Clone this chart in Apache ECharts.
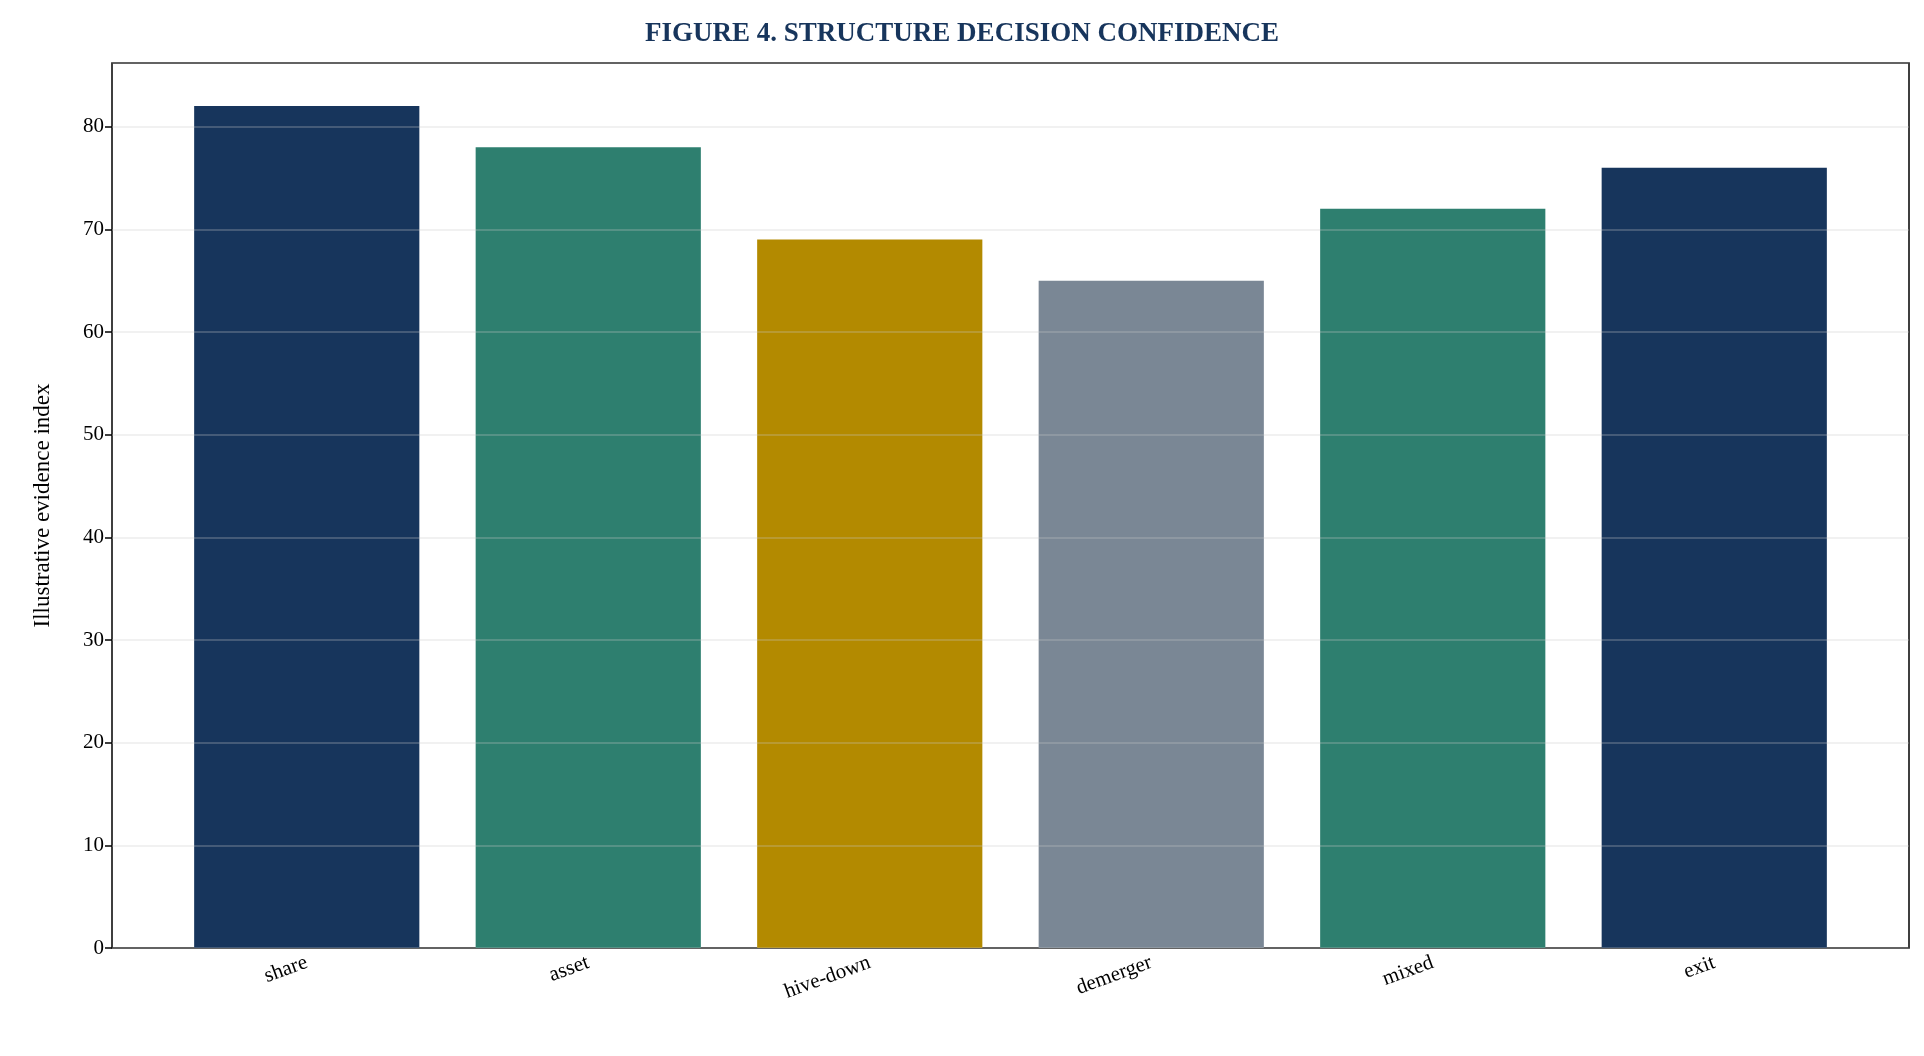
<!DOCTYPE html><html><head><meta charset="utf-8"><script src="https://cdn.jsdelivr.net/npm/echarts@6/dist/echarts.min.js"></script></head><body style="margin:0"><div id="c" style="width:1924px;height:1056px"></div><script>
const categories=['share','asset','hive-down','demerger','mixed','exit'];
const values=[82,78,69,65,72,76];
const colors=['#17355c','#2e7f6f','#b38a00','#7a8795','#2e7f6f','#17355c'];
const F='Liberation Serif';
const ch=echarts.init(document.getElementById('c'));
ch.setOption({
 title:{text:'FIGURE 4. STRUCTURE DECISION CONFIDENCE',left:'center',top:16,textStyle:{fontFamily:F,fontWeight:'bold',fontSize:27,color:'#17355c'}},
 grid:[{left:166,right:69,top:63,bottom:108},{left:112,right:15,top:63,bottom:108,show:true,borderColor:'#000',borderWidth:1.5,backgroundColor:'transparent'}],
 xAxis:[{type:'category',data:categories,gridIndex:0,axisLine:{show:false},axisTick:{alignWithLabel:true,length:7,lineStyle:{color:'#000',width:1.5}},axisLabel:{rotate:20,fontFamily:F,fontSize:21,color:'#000',margin:14}},
 {type:'value',gridIndex:1,show:false,min:0,max:1}],
 yAxis:[{type:'value',gridIndex:0,min:0,max:86.2,show:false},
 {type:'value',gridIndex:1,min:0,max:86.2,interval:10,z:5,name:'Illustrative evidence index',nameLocation:'middle',nameGap:58,nameTextStyle:{fontFamily:F,fontSize:23,color:'#000'},axisLine:{show:false},axisTick:{show:true,length:7,lineStyle:{color:'#000',width:1.5}},axisLabel:{fontFamily:F,fontSize:21,color:'#000',showMaxLabel:false},splitLine:{lineStyle:{color:'rgba(200,200,200,0.35)',width:1.5}}}],
 series:[{type:'bar',xAxisIndex:0,yAxisIndex:0,data:values.map((v,i)=>({value:v,itemStyle:{color:colors[i]}})),barWidth:'80%'}]
});
</script></body></html>
